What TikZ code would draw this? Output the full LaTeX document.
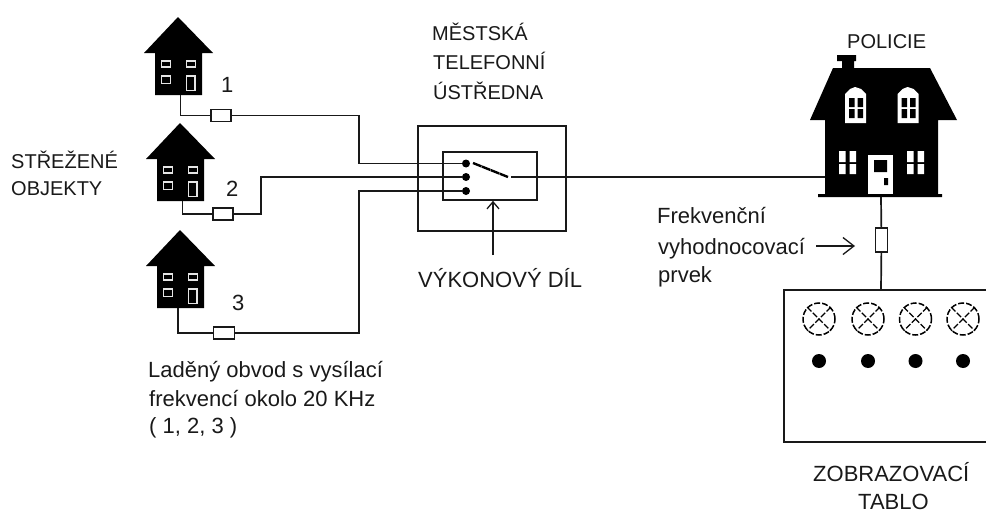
\documentclass[tikz,border=0pt]{standalone}
\usepackage{fontspec}
\setmainfont{Liberation Sans}
\usetikzlibrary{arrows.meta}
\tikzset{
  wire/.style={draw=black!90,line width=1.7pt,line join=miter},
  res/.style={draw=black!90,line width=1.7pt,fill=white,minimum width=20pt,minimum height=12pt,inner sep=0pt,outer sep=0pt},
  vres/.style={res,minimum width=12pt,minimum height=24pt},
  dot/.style={circle,fill=black,draw=none,minimum size=8pt,inner sep=0pt},
  bigdot/.style={circle,fill=black,draw=none,minimum size=14pt,inner sep=0pt},
  lamp/.style={circle,draw=black,line width=1.5pt,dash pattern=on 6pt off 2pt,minimum size=32pt,inner sep=0pt},
  lbl/.style={font=\fontsize{22}{26}\selectfont,text=black!90,inner sep=0pt,anchor=base west},
  lbs/.style={lbl,font=\fontsize{20}{24}\selectfont},
  arr/.style={draw=black!90,line width=1.3pt,-{Straight Barb[length=11pt,width=17pt]}},
  arrv/.style={draw=black!90,line width=1.3pt,-{Straight Barb[length=7pt,width=12pt]}},
  boxline/.style={draw=black!90,line width=1.7pt},
  win/.style={draw=white!90!black,line width=1.6pt,fill=black}
}
\newcommand{\hut}[3]{%
  \begin{scope}[shift={(#1,#2)}]
    \fill[black] (0,0) -- (35,36) -- (24,36) -- (24,78) -- (-23,78) -- (-23,36) -- (-34,36) -- cycle;
    \draw[win] (-16.5,44) rectangle (-7.5,50);
    \draw[win] (8.5,44) rectangle (17.5,50);
    \draw[win] (-16.5,59) rectangle (-7.5,66.5);
    \draw[win] (8.5,59) rectangle (17,73.5);
    \coordinate (#3) at (2.5,78);
  \end{scope}}
\newcommand{\dormer}[1]{%
  \begin{scope}[shift={(#1,0)}]
    \fill[white] (0,123) -- (0,94) -- (5,89) -- (10,87) -- (16,89) -- (21,94) -- (21,123) -- cycle;
    \fill[black] (4,98) rectangle (9.5,107) (12.5,98) rectangle (18,107) (4,109) rectangle (9.5,118) (12.5,109) rectangle (18,118);
  \end{scope}}
\newcommand{\pane}[1]{%
  \begin{scope}[shift={(#1,0)}]
    \fill[white] (0,151) rectangle (6.5,162) (10.5,151) rectangle (17,162) (0,164) rectangle (6.5,174) (10.5,164) rectangle (17,174);
  \end{scope}}
\begin{document}
\begin{tikzpicture}[x=1pt,y=-1pt]
\useasboundingbox (0,0) rectangle (986,514);
% houses
\hut{178}{17}{h1}
\hut{180}{123}{h2}
\hut{180}{230}{h3}
\coordinate (h3w) at (178,308);
% police
\fill[black] (837,55) -- (856,55) -- (856,61) -- (854,61) -- (854,68) -- (930,68) -- (957,120) -- (938,120) -- (938,194) -- (942,194) -- (942,197) -- (818,197) -- (818,194) -- (825,194) -- (825,120) -- (810,120) -- (833,68) -- (842,68) -- (842,61) -- (837,61) -- cycle;
\dormer{845}
\dormer{897.5}
\pane{839}
\pane{907}
\fill[white] (868,155) rectangle (893,194);
\fill[black] (874,160) rectangle (887,172) (884,178) rectangle (888,185);
\coordinate (hp) at (825,177);
\coordinate (hb) at (881,197);
% boxes
\node[boxline,minimum width=148pt,minimum height=105pt,inner sep=0pt] (outer) at (492,178.5) {};
\node[boxline,minimum width=94pt,minimum height=48pt,inner sep=0pt] (inner) at (490,176) {};
\draw[boxline] (986,290) -- (784,290) -- (784,442) -- (986,442);
\coordinate (tt) at (881,290);
% switch
\node[dot] (d1) at (466,163.5) {};
\node[dot] (d2) at (466,177) {};
\node[dot] (d3) at (466,191) {};
\coordinate (a1) at (473,163);
\coordinate (a2) at (508,177);
\coordinate (o1) at (511,177);
\draw[draw=black,line width=2.4pt,dash pattern=on 9pt off 0.6pt] (a1) -- (a2);
% resistors and wires
\node[res] (r1) at (221,115.5) {};
\node[res] (r2) at (223,214) {};
\node[res,minimum width=21pt] (r3) at (224,333) {};
\node[vres] (r4) at (881.5,240) {};
\draw[wire] (h1) |- (r1);
\draw[wire] (r1) -- (359,115.5) |- (d1);
\draw[wire] (h2) |- (r2);
\draw[wire] (r2) -- (261,214) |- (d2);
\draw[wire] (h3w) |- (r3);
\draw[wire] (r3) -- (359,333) |- (d3);
\draw[wire] (o1) -- (hp);
\draw[wire] (hb) -- (r4);
\draw[wire] (r4) -- (tt);
% arrows
\coordinate (as) at (493,255);
\draw[arrv] (as) -- (inner.south -| as);
\coordinate (fs) at (816,246);
\coordinate (fe) at (855,246);
\draw[arr] (fs) -- (fe);
% lamps
\foreach \n/\x in {1/819,2/868,3/915.5,4/963}{
  \node[lamp] (l\n) at (\x,319) {};
  \draw[draw=black,line width=1.3pt,dash pattern=on 6pt off 2pt] (l\n.north west) -- (l\n.south east) (l\n.north east) -- (l\n.south west);
  \node[bigdot] (b\n) at (\x,361) {};
}
% labels
\node[lbl] (t1) at (221,92) {1};
\node[lbl] (t2) at (226,196) {2};
\node[lbl] (t3) at (232,310) {3};
\node[lbs] (so) at (11,168) {STŘEŽENÉ};
\node[lbs] (ob) at (11,195) {OBJEKTY};
\node[lbs] (m1) at (432,40) {MĚSTSKÁ};
\node[lbs] (m2) at (433,69) {TELEFONNÍ};
\node[lbs] (m3) at (433,99) {ÚSTŘEDNA};
\node[lbs] (pol) at (847,48) {POLICIE};
\node[lbl] (vd) at (418,287) {VÝKONOVÝ DÍL};
\node[lbl] (f1) at (657,223) {Frekvenční};
\node[lbl] (f2) at (658,254) {vyhodnocovací};
\node[lbl] (f3) at (658,282) {prvek};
\node[lbl] (l1) at (148,377) {Laděný obvod s vysílací};
\node[lbl] (l2) at (149,406) {frekvencí okolo 20 KHz};
\node[lbl] (l3) at (149,433) {( 1, 2, 3 )};
\node[lbl] (z1) at (813,481) {ZOBRAZOVACÍ};
\node[lbl] (z2) at (858,509) {TABLO};
\end{tikzpicture}
\end{document}
